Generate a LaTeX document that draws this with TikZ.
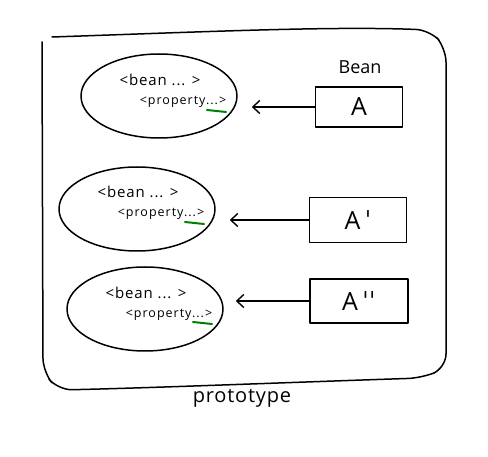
\documentclass[tikz,border=0pt]{standalone}
\usepackage{fontspec}
\setmainfont{Open Sans}
\newfontfamily\dvfont{DejaVu Sans}
\usetikzlibrary{shapes.geometric,arrows.meta}
\begin{document}
\begin{tikzpicture}[x=1pt,y=-1pt,line width=1.5pt,line cap=round,line join=round,
  cloud/.style={draw,ellipse,minimum width=156pt,minimum height=84pt,inner sep=0pt},
  beanbox/.style={draw,minimum width=90pt,minimum height=42pt,inner sep=0pt,font=\fontsize{25}{26}\selectfont},
  tagtxt/.style={font=\fontsize{15}{16}\addfontfeature{LetterSpace=6}},
  proptxt/.style={font=\fontsize{12.5}{14}\addfontfeature{LetterSpace=8}},
  link/.style={-{Straight Barb[length=7pt,width=13pt,line width=1.4pt]}},
  greenmark/.style={draw=green!50!black,line width=2pt}]
\useasboundingbox (0,0) rectangle (488,457);
% outer frame
\draw[rounded corners=14pt] (52,37) .. controls (200,32) and (330,26) .. (430,30)
  -- (446,48) -- (446,368) -- (422,378) .. controls (300,382) and (150,388) .. (58,390) -- (43,372) -- (42,42);
% ellipses
\node[cloud] (e1) at (159,96) {};
\node[cloud] (e2) at (137,209) {};
\node[cloud] (e3) at (145,309) {};
% texts
\node[tagtxt] (b1) at (160,80) {<bean ... >};
\node[proptxt] (p1) at (183,102) {<property...>};
\node[tagtxt] (b2) at (138,192) {<bean ... >};
\node[proptxt] (p2) at (161,214) {<property...>};
\node[tagtxt] (b3) at (146,293) {<bean ... >};
\node[proptxt] (p3) at (169,315) {<property...>};
% green marks
\draw[greenmark] (207,110) -- (226,112);
\draw[greenmark] (185,222) -- (204,224);
\draw[greenmark] (193,322) -- (212,324);
% boxes
\node[beanbox,minimum width=87pt,minimum height=40pt] (A1) at (359,107) {A};
\node[font=\fontsize{18}{19}\selectfont] (bean) at (360,67) {Bean};
\node[beanbox,minimum width=97pt,minimum height=45pt] (A2) at (358,220) {A\,{\dvfont ˈ}};
\node[beanbox,minimum width=98pt,minimum height=44pt] (A3) at (359,301) {A\,{\dvfont ˈˈ}};
% arrows
\draw[link] (A1.west) -- ([xshift=14pt]e1.east |- A1.west);
\draw[link] (A2.west) -- ([xshift=14pt]e2.east |- A2.west);
\draw[link] (A3.west) -- ([xshift=12pt]e3.east |- A3.west);
% label
\node[font=\fontsize{20}{22}\addfontfeature{LetterSpace=4}] (proto) at (242,398) {prototype};
\end{tikzpicture}
\end{document}
